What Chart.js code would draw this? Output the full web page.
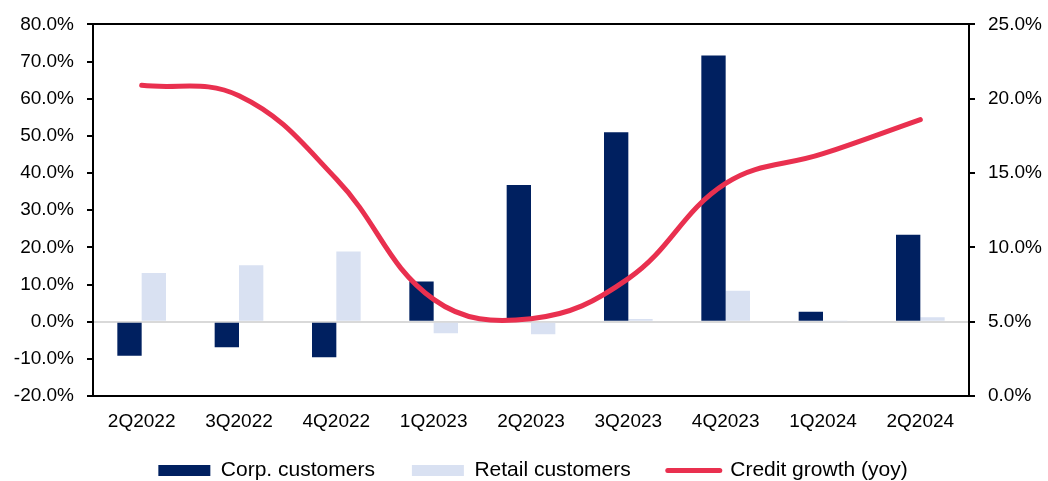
<!DOCTYPE html>
<html>
<head>
<meta charset="utf-8">
<script src="https://cdn.jsdelivr.net/npm/chart.js@4"></script>
<style>
  html, body { margin: 0; padding: 0; background: #fff; }
  canvas { display: block; }
</style>
</head>
<body>
<canvas id="chart" width="1048" height="481"></canvas>
<script>
// Quarterly loan growth by customer segment (left axis) and total credit growth (right axis)
const quarters = ['2Q2022', '3Q2022', '4Q2022', '1Q2023', '2Q2023', '3Q2023', '4Q2023', '1Q2024', '2Q2024'];
const corpCustomers = [-9.2, -6.9, -9.6, 10.8, 36.8, 51.0, 71.6, 2.7, 23.4];
const retailCustomers = [13.1, 15.2, 18.9, -3.1, -3.4, 0.7, 8.3, 0.1, 1.2];
const creditGrowthYoy = [20.9, 20.2, 14.6, 6.5, 5.2, 7.9, 14.3, 16.3, 18.6];
const leftTickValues = [-20, -10, 0, 10, 20, 30, 40, 50, 60, 70, 80];
const rightTickValues = [0, 5, 10, 15, 20, 25];

const NAVY = '#002060';
const PALE = '#D9E1F2';
const RED = '#E9304F';

Chart.defaults.font.family = '"Liberation Sans", Arial, sans-serif';
Chart.defaults.color = '#000';

const pct = v => Number(v).toFixed(1) + '%';

// Legend strip: fixed height, wide item gaps, nudged into place when drawn
const LEGEND_HEIGHT = 49;
const LEGEND_SHIFT = { x: 9, y: -9 };
const legendStrip = {
  id: 'legendStrip',
  beforeLayout(chart) {
    const legend = chart.legend;
    if (legend && !legend._stripPatched) {
      const proto = Object.getPrototypeOf(legend);
      legend.fit = function () {
        proto.fit.call(this);
        this.height = LEGEND_HEIGHT;
      };
      legend.draw = function () {
        if (!this.options.display) return;
        const ctx = this.ctx;
        ctx.save();
        ctx.translate(LEGEND_SHIFT.x, LEGEND_SHIFT.y);
        this._draw();
        ctx.restore();
      };
      legend._stripPatched = true;
    }
  }
};

new Chart(document.getElementById('chart'), {
  type: 'bar',
  data: {
    labels: quarters,
    datasets: [
      {
        label: 'Corp. customers',
        data: corpCustomers,
        backgroundColor: NAVY,
        yAxisID: 'y',
        order: 1,
        barPercentage: 1,
        categoryPercentage: 0.5
      },
      {
        label: 'Retail customers',
        data: retailCustomers,
        backgroundColor: PALE,
        yAxisID: 'y',
        order: 1,
        barPercentage: 1,
        categoryPercentage: 0.5
      },
      {
        type: 'line',
        label: 'Credit growth (yoy)',
        data: creditGrowthYoy,
        borderColor: RED,
        backgroundColor: RED,
        borderWidth: 5,
        borderCapStyle: 'round',
        pointRadius: 0,
        pointHoverRadius: 0,
        tension: 0.4,
        yAxisID: 'y1',
        order: 0
      }
    ]
  },
  options: {
    responsive: false,
    animation: false,
    devicePixelRatio: 1,
    layout: { padding: { top: 22, left: 0, right: 0, bottom: 0 } },
    plugins: {
      tooltip: { enabled: false },
      legend: {
        position: 'bottom',
        labels: {
          usePointStyle: true,
          pointStyleWidth: 52,
          boxHeight: 11,
          padding: 37,
          font: { size: 21 },
          color: '#000',
          generateLabels(chart) {
            return chart.data.datasets.map((ds, i) => {
              const isLine = ds.type === 'line';
              return {
                text: ds.label,
                datasetIndex: i,
                fillStyle: isLine ? ds.borderColor : ds.backgroundColor,
                strokeStyle: isLine ? ds.borderColor : ds.backgroundColor,
                lineWidth: isLine ? 5 : 0,
                lineCap: 'round',
                pointStyle: isLine ? 'line' : 'rect',
                fontColor: '#000',
                hidden: false
              };
            });
          }
        }
      }
    },
    scales: {
      x: {
        grid: { display: false, drawTicks: false },
        border: { display: true, color: '#000', width: 2 },
        ticks: { font: { size: 19 }, color: '#000', padding: 14, maxRotation: 0 },
        afterFit(scale) { scale.height = 36; }
      },
      y: {
        position: 'left',
        min: -20,
        max: 80,
        afterBuildTicks(scale) { scale.ticks = leftTickValues.map(v => ({ value: v })); },
        afterFit(scale) { scale.width = 93; },
        grid: {
          drawOnChartArea: true,
          drawTicks: true,
          tickLength: 6,
          tickColor: '#000',
          tickWidth: 2,
          color: ctx => ctx.tick && ctx.tick.value === 0 ? '#D9D9D9'
                      : (ctx.tick && ctx.tick.value === 80 ? '#000' : 'rgba(0,0,0,0)'),
          lineWidth: 2
        },
        border: { display: true, color: '#000', width: 2 },
        ticks: { font: { size: 19 }, color: '#000', padding: 13, callback: v => pct(v) }
      },
      y1: {
        position: 'right',
        min: 0,
        max: 25,
        afterBuildTicks(scale) { scale.ticks = rightTickValues.map(v => ({ value: v })); },
        afterFit(scale) { scale.width = 79; },
        grid: {
          drawOnChartArea: false,
          drawTicks: true,
          tickLength: 6,
          tickColor: '#000',
          tickWidth: 2,
          lineWidth: 2
        },
        border: { display: true, color: '#000', width: 2 },
        ticks: { font: { size: 19 }, color: '#000', padding: 13, callback: v => pct(v) }
      }
    }
  },
  plugins: [legendStrip]
});
</script>
</body>
</html>
